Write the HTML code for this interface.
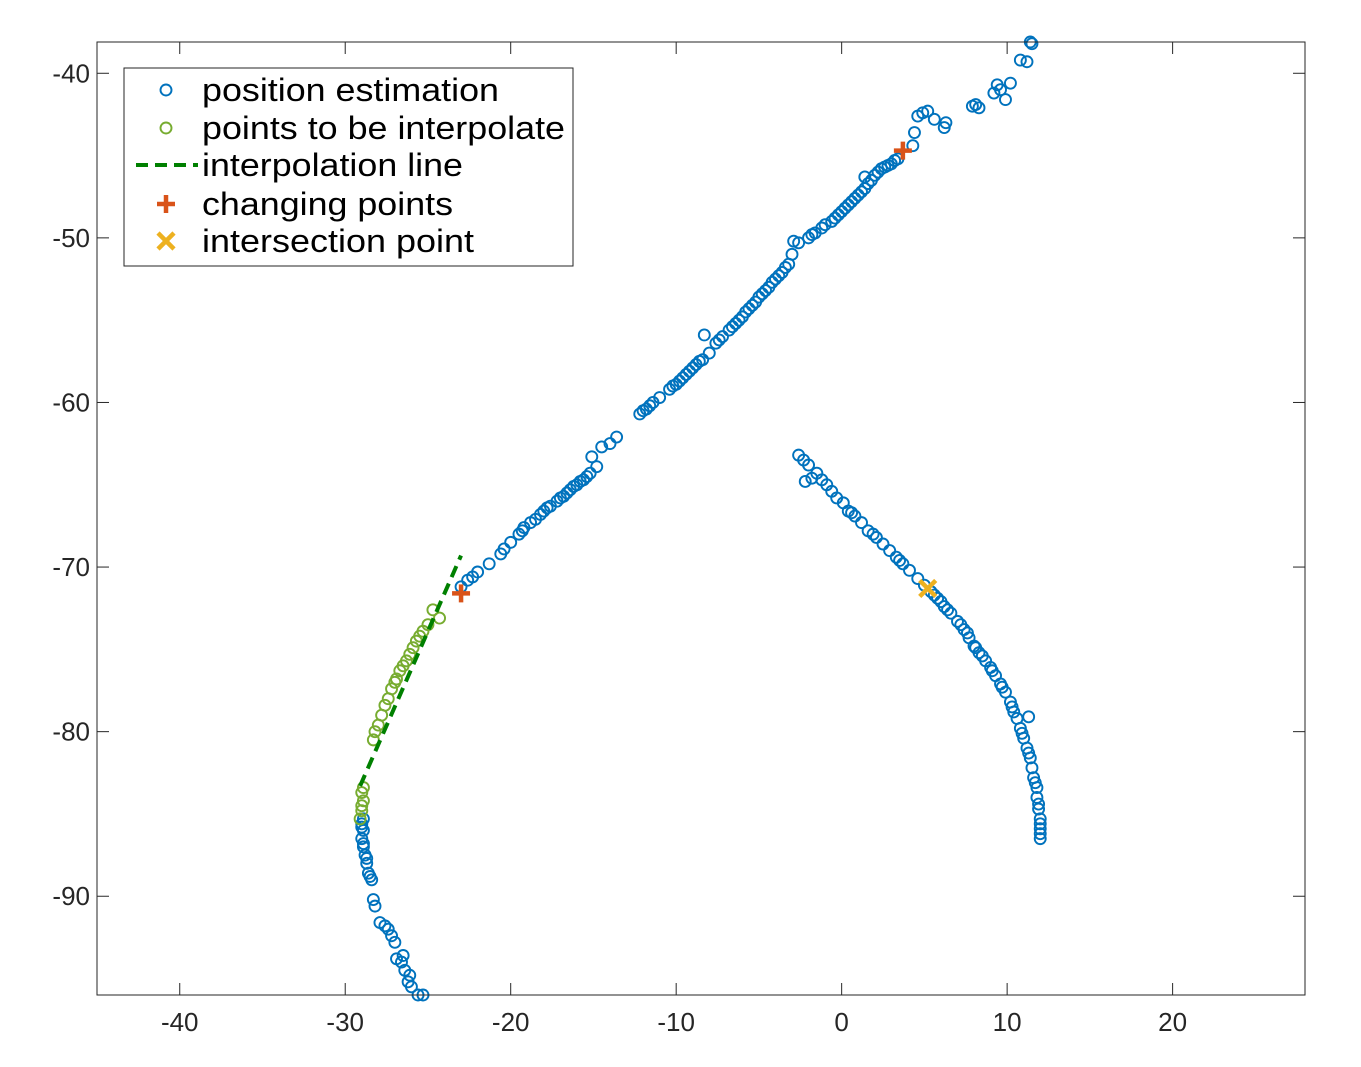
<!DOCTYPE html>
<html><head><meta charset="utf-8"><style>
body{margin:0;background:#fff;}
svg{display:block;font-family:"Liberation Sans",sans-serif;}
</style></head><body>
<svg id="chart" width="1361" height="1067">
<rect x="0" y="0" width="1361" height="1067" fill="#fff"/>
<g id="plot"></g>
<rect x="97" y="42" width="1208" height="953" fill="none" stroke="#262626" stroke-width="1"/>
<g id="ticks"></g>
<g id="legend"></g>
</svg>
<script>
const xTicks=[-40,-30,-20,-10,0,10,20];
const yTicks=[-40,-50,-60,-70,-80,-90];
const bluePts=[[-25.3,-96],[-25.6,-96],[-26.0,-95.5],[-26.2,-95.2],[-26.1,-94.8],[-26.4,-94.5],[-26.6,-94.0],[-26.9,-93.8],[-26.5,-93.6],[-27.0,-92.8],[-27.2,-92.4],[-27.4,-92.0],[-27.9,-91.6],[-27.6,-91.8],[-28.2,-90.6],[-28.3,-90.2],[-28.4,-89.0],[-28.5,-88.8],[-28.6,-88.6],[-28.7,-88.0],[-28.7,-87.7],[-28.8,-87.5],[-28.9,-87.0],[-28.9,-86.8],[-29.0,-86.5],[-28.9,-86.0],[-29.0,-85.8],[-29.0,-85.6],[-28.9,-85.3],
[-23.0,-71.2],[-22.6,-70.8],[-22.3,-70.6],[-22.0,-70.3],[-21.3,-69.8],[-20.6,-69.2],[-20.4,-68.9],[-20.0,-68.5],[-19.5,-68.0],[-19.3,-67.8],[-19.2,-67.6],[-18.8,-67.3],[-18.5,-67.1],[-18.2,-66.8],[-18.0,-66.6],[-17.8,-66.4],[-17.6,-66.3],[-17.2,-66.0],[-17.0,-65.8],[-16.8,-65.7],[-16.6,-65.5],[-16.4,-65.3],[-16.2,-65.1],[-16.0,-65.0],[-15.8,-64.8],[-15.6,-64.7],[-15.4,-64.5],[-15.2,-64.3],[-14.8,-63.9],[-15.1,-63.3],[-14.5,-62.7],[-14.0,-62.5],[-13.6,-62.1],[-12.2,-60.7],[-12.0,-60.5],[-11.8,-60.4],[-11.6,-60.2],[-11.4,-60.0],[-11.0,-59.7],[-10.4,-59.2],[-10.2,-59.0],[-10.0,-58.9],[-9.8,-58.7],[-9.6,-58.5],[-9.4,-58.3],[-9.2,-58.1],[-9.0,-57.9],[-8.8,-57.7],[-8.6,-57.5],[-8.4,-57.4],[-8.0,-57.0],[-8.3,-55.9],[-7.6,-56.4],[-7.4,-56.2],[-7.2,-56.0],[-6.8,-55.6],[-6.6,-55.4],[-6.4,-55.2],[-6.2,-55.0],[-6.0,-54.8],[-5.8,-54.5],[-5.6,-54.3],[-5.4,-54.1],[-5.2,-53.9],[-5.0,-53.6],[-4.8,-53.4],[-4.6,-53.2],[-4.4,-53.0],[-4.2,-52.7],[-4.0,-52.5],[-3.8,-52.3],[-3.6,-52.1],[-3.4,-51.8],[-3.2,-51.6],[-3.0,-51.0],[-2.9,-50.2],[-2.6,-50.3],[-2.0,-50.0],[-1.8,-49.8],[-1.6,-49.7],[-1.2,-49.4],[-1.0,-49.2],[-0.6,-49.0],[-0.4,-48.8],[-0.2,-48.6],[0.0,-48.4],[0.2,-48.2],[0.4,-48.0],[0.6,-47.8],[0.8,-47.6],[1.0,-47.4],[1.2,-47.2],[1.4,-47.0],[1.6,-46.7],[1.8,-46.5],[1.4,-46.3],[2.0,-46.2],[2.2,-46.0],[2.4,-45.8],[2.6,-45.7],[2.8,-45.6],[3.0,-45.5],[3.2,-45.3],[3.4,-45.2],[4.3,-44.4],[4.4,-43.6],[4.6,-42.6],[4.9,-42.4],[5.2,-42.3],[5.6,-42.8],[6.2,-43.3],[6.3,-43.0],[7.9,-42.0],[8.1,-41.9],[8.3,-42.1],[9.2,-41.2],[9.4,-40.7],[9.6,-41.0],[9.9,-41.6],[10.2,-40.6],[10.8,-39.2],[11.2,-39.3],[11.4,-38.1],[11.5,-38.2],
[-2.6,-63.2],[-2.3,-63.5],[-2.0,-63.8],[-2.2,-64.8],[-1.8,-64.6],[-1.5,-64.3],[-1.2,-64.7],[-0.9,-65.0],[-0.6,-65.4],[-0.3,-65.8],[0.1,-66.1],[0.4,-66.6],[0.6,-66.7],[0.8,-66.9],[1.2,-67.3],[1.6,-67.8],[1.9,-68.0],[2.1,-68.2],[2.5,-68.6],[2.9,-69.0],[3.3,-69.4],[3.5,-69.6],[3.7,-69.8],[4.1,-70.2],[4.6,-70.7],[5.0,-71.1],[5.4,-71.5],[5.6,-71.7],[5.8,-71.9],[6.0,-72.1],[6.2,-72.4],[6.4,-72.6],[6.6,-72.8],[7.0,-73.3],[7.2,-73.5],[7.4,-73.8],[7.6,-74.0],[7.7,-74.3],[8.0,-74.8],[8.1,-74.9],[8.3,-75.2],[8.5,-75.4],[8.7,-75.7],[9.0,-76.1],[9.1,-76.3],[9.3,-76.6],[9.6,-77.1],[9.7,-77.3],[9.9,-77.6],[10.2,-78.2],[10.3,-78.5],[10.4,-78.8],[10.6,-79.2],[11.3,-79.1],[10.8,-79.8],[10.9,-80.1],[11.0,-80.4],[11.2,-81.0],[11.3,-81.3],[11.4,-81.6],[11.5,-82.2],[11.6,-82.8],[11.7,-83.1],[11.8,-83.4],[11.8,-84.0],[11.9,-84.4],[11.9,-84.7],[12.0,-85.3],[12.0,-85.6],[12.0,-85.9],[12.0,-86.2],[12.0,-86.5]];
const greenPts=[[-29.1,-85.3],[-29.0,-84.8],[-29.0,-84.5],[-28.9,-84.2],[-29.0,-83.7],[-28.9,-83.4],[-28.3,-80.5],[-28.2,-80.0],[-28.0,-79.6],[-27.8,-79.0],[-27.6,-78.4],[-27.4,-78.0],[-27.2,-77.4],[-27.0,-77.0],[-26.9,-76.8],[-26.7,-76.3],[-26.5,-76.0],[-26.3,-75.7],[-26.1,-75.3],[-25.9,-74.9],[-25.7,-74.5],[-25.5,-74.2],[-25.3,-73.9],[-24.7,-72.6],[-24.3,-73.1],[-25.0,-73.5]];
const lineX=[-29.1,-23.0];
const lineY=[-83.3,-69.3];
const changeX=[-23.0,3.7];
const changeY=[-71.6,-44.7];
const interX=[5.2];
const interY=[-71.3];
const NS="http://www.w3.org/2000/svg";
const X0=97,X1=1305,Y0=42,Y1=995,xmin=-45,xmax=28,ymin=-96,ymax=-38.1;
function sx(v){return X0+(v-xmin)/(xmax-xmin)*(X1-X0);}
function sy(v){return Y1-(v-ymin)/(ymax-ymin)*(Y1-Y0);}
function mk(tag,attrs,parent){const e=document.createElementNS(NS,tag);for(const k in attrs)e.setAttribute(k,attrs[k]);parent.appendChild(e);return e;}
const plot=document.getElementById('plot'),ticks=document.getElementById('ticks'),leg=document.getElementById('legend');
function circ(x,y,c,p){return mk('circle',{cx:x,cy:y,r:5.5,fill:'none',stroke:c,'stroke-width':1.9},p);}
function plus(x,y,p){const g=mk('g',{stroke:'#D95319','stroke-width':4.5},p);mk('line',{x1:x-9,y1:y,x2:x+9,y2:y},g);mk('line',{x1:x,y1:y-9,x2:x,y2:y+9},g);return g;}
function cross(x,y,p){const g=mk('g',{stroke:'#EDB120','stroke-width':4.5},p);mk('line',{x1:x-8,y1:y-8,x2:x+8,y2:y+8},g);mk('line',{x1:x-8,y1:y+8,x2:x+8,y2:y-8},g);return g;}
bluePts.forEach(p=>{const e=circ(sx(p[0]),sy(p[1]),'#0072BD',plot);

});
greenPts.forEach(p=>{const e=circ(sx(p[0]),sy(p[1]),'#77AC30',plot);

});
const ln=mk('line',{x1:sx(lineX[0]),y1:sy(lineY[0]),x2:sx(lineX[1]),y2:sy(lineY[1]),stroke:'#008000','stroke-width':4,'stroke-dasharray':'12 7'},plot);


changeX.forEach((v,i)=>{const e=plus(sx(v),sy(changeY[i]),plot);

});
interX.forEach((v,i)=>{const e=cross(sx(v),sy(interY[i]),plot);

});
xTicks.forEach(v=>{const x=sx(v);
mk('line',{x1:x,y1:Y1,x2:x,y2:Y1-12,stroke:'#262626'},ticks);mk('line',{x1:x,y1:Y0,x2:x,y2:Y0+12,stroke:'#262626'},ticks);
const t=mk('text',{x:x,y:1031,'text-anchor':'middle','font-size':26,fill:'#262626'},ticks);t.textContent=v;

});
yTicks.forEach(v=>{const y=sy(v);
mk('line',{x1:X0,y1:y,x2:X0+12,y2:y,stroke:'#262626'},ticks);mk('line',{x1:X1,y1:y,x2:X1-12,y2:y,stroke:'#262626'},ticks);
const t=mk('text',{x:90,y:y+9,'text-anchor':'end','font-size':26,fill:'#262626'},ticks);t.textContent=v;

});
mk('rect',{x:124,y:68,width:449,height:198,fill:'#fff',stroke:'#262626','stroke-width':1},leg);
const labels=['position estimation','points to be interpolate','interpolation line','changing points','intersection point'];
const labelW=[297,363,261,251,272];
const ly=[90,128,165,204,241];
labels.forEach((s,i)=>{const y=ly[i];
if(i==0)circ(166,y,'#0072BD',leg);else if(i==1)circ(166,y,'#77AC30',leg);
else if(i==2)mk('line',{x1:136,y1:y,x2:198,y2:y,stroke:'#008000','stroke-width':4,'stroke-dasharray':'12 7'},leg);
else if(i==3)plus(166,y,leg);else cross(166,y,leg);
const t=mk('text',{x:202,y:y+11,'font-size':32.5,fill:'#000',textLength:labelW[i],lengthAdjust:'spacingAndGlyphs'},leg);t.textContent=s;

});
</script>
</body></html>
